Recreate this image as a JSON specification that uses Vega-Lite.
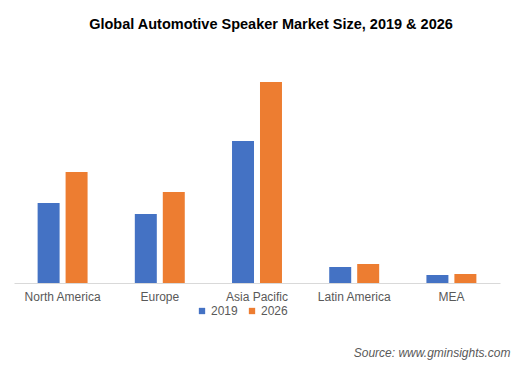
{
  "$schema": "https://vega.github.io/schema/vega-lite/v6.json",
  "width": 486,
  "height": 223,
  "autosize": "none",
  "padding": {"left": 14, "top": 60, "right": 14, "bottom": 85},
  "background": "white",
  "title": {
    "text": "Global Automotive Speaker Market Size, 2019 & 2026",
    "font": "Liberation Sans",
    "fontSize": 14.5,
    "fontWeight": "bold",
    "color": "#000000",
    "anchor": "middle",
    "dx": 14,
    "offset": 28
  },
  "data": {
    "values": [
      {"region": "North America", "year": "2019", "value": 80},
      {"region": "North America", "year": "2026", "value": 111},
      {"region": "Europe", "year": "2019", "value": 69},
      {"region": "Europe", "year": "2026", "value": 91},
      {"region": "Asia Pacific", "year": "2019", "value": 142},
      {"region": "Asia Pacific", "year": "2026", "value": 201},
      {"region": "Latin America", "year": "2019", "value": 16},
      {"region": "Latin America", "year": "2026", "value": 19},
      {"region": "MEA", "year": "2019", "value": 8},
      {"region": "MEA", "year": "2026", "value": 9}
    ]
  },
  "mark": {"type": "bar"},
  "encoding": {
    "x": {
      "field": "region",
      "type": "nominal",
      "sort": null,
      "scale": {"paddingInner": 0.486, "paddingOuter": 0.243},
      "axis": {
        "title": "Source: www.gminsights.com",
        "titleFont": "Liberation Sans",
        "titleFontSize": 12,
        "titleFontStyle": "italic",
        "titleFontWeight": "normal",
        "titleColor": "#595959",
        "titleAnchor": "end",
        "titleAlign": "right",
        "titleX": 496,
        "titleY": 64,
        "labelAngle": 0,
        "labelFont": "Liberation Sans",
        "labelFontSize": 12,
        "labelColor": "#595959",
        "labelPadding": 8,
        "ticks": false,
        "domainColor": "#d9d9d9",
        "domainWidth": 1
      }
    },
    "xOffset": {
      "field": "year",
      "type": "nominal",
      "scale": {"paddingInner": 0.214, "paddingOuter": 0}
    },
    "y": {
      "field": "value",
      "type": "quantitative",
      "scale": {"domain": [0, 223], "nice": false},
      "axis": null
    },
    "color": {
      "field": "year",
      "type": "nominal",
      "scale": {"domain": ["2019", "2026"], "range": ["#4472C4", "#ED7D31"]},
      "legend": {
        "title": null,
        "orient": "none",
        "direction": "horizontal",
        "legendX": 182,
        "legendY": 245,
        "symbolType": "square",
        "symbolSize": 40,
        "symbolStrokeWidth": 0,
        "labelFont": "Liberation Sans",
        "labelFontSize": 12,
        "labelColor": "#595959",
        "labelOffset": 3,
        "columnPadding": 8
      }
    }
  },
  "config": {"view": {"stroke": null}}
}
